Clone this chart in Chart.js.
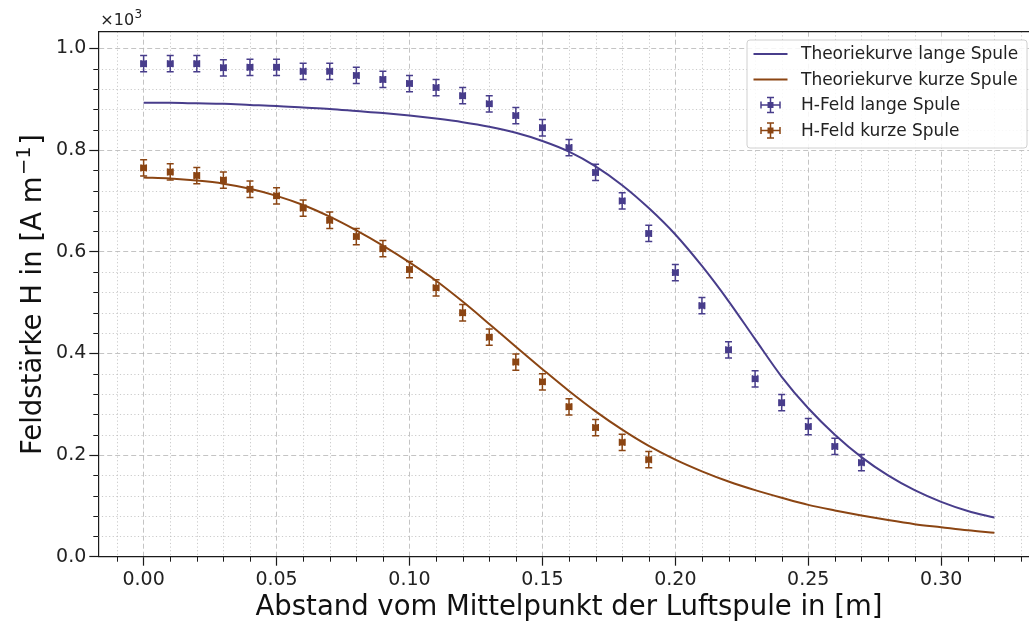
<!DOCTYPE html>
<html>
<head>
<meta charset="utf-8">
<script src="https://cdn.jsdelivr.net/npm/chart.js@4/dist/chart.umd.min.js"></script>
<style>
html,body{margin:0;padding:0;background:#fff;overflow:hidden;width:1029px;height:625px;}
#wrap{position:absolute;left:0;top:0;width:1046px;height:625px;}
</style>
</head>
<body>
<div id="wrap"><canvas id="c" width="1046" height="625"></canvas></div>
<script>
// ---- data (H in A/m, distance in m) ----
const xLong = [0.00,0.01,0.02,0.03,0.04,0.05,0.06,0.07,0.08,0.09,0.10,0.11,0.12,0.13,0.14,0.15,0.16,0.17,0.18,0.19,0.20,0.21,0.22,0.23,0.24,0.25,0.26,0.27];
const hLong = [970,970,970,962,963,963,955,955,947,939,931,923,907,891,868,844,805,756,700,636,559,494,407,350,303,256,217,185];
const xShort = [0.00,0.01,0.02,0.03,0.04,0.05,0.06,0.07,0.08,0.09,0.10,0.11,0.12,0.13,0.14,0.15,0.16,0.17,0.18,0.19];
const hShort = [765,757,750,741,723,710,686,662,630,606,565,529,480,432,383,344,295,254,225,191];
const hErr = 16;      // A/m
const xErr = 0.001;   // m

const xTheory = [0.00,0.01,0.02,0.03,0.04,0.05,0.06,0.07,0.08,0.09,0.10,0.11,0.12,0.13,0.14,0.15,0.16,0.17,0.18,0.19,0.20,0.21,0.22,0.23,0.24,0.25,0.26,0.27,0.28,0.29,0.30,0.31,0.32];
const hTheoryLong = [893,893,892,891,889,887,884,881,877,873,868,862,855,846,834,818,797,768,731,686,634,572,503,428,354,292,240,196,160,131,108,90,77];
const hTheoryShort = [746,744,740,734,724,710,692,669,642,612,579,543,502,458,413,369,326,286,250,218,191,168,148,131,116,102,91,81,72,64,58,52,47];

const xTicks = [0.00,0.05,0.10,0.15,0.20,0.25,0.30];
const yTicks = [0,200,400,600,800,1000];

const labels = {
  theoryLong: 'Theoriekurve lange Spule',
  theoryShort: 'Theoriekurve kurze Spule',
  dataLong: 'H-Feld lange Spule',
  dataShort: 'H-Feld kurze Spule',
  xTitle: 'Abstand vom Mittelpunkt der Luftspule in [m]',
  yTitleMain: 'Feldstärke H in [A m',
  yTitleSup: '−1',
  yTitleEnd: ']',
  offset: '×10',
  offsetSup: '3'
};

// ---- styles ----
const FONT = "'DejaVu Sans', sans-serif";
const BLUE = '#483d8b';
const BROWN = '#8b4513';
const AXIS = '#1a1a1a';

function pts(xs, ys){ return xs.map((x,i)=>({x:x, y:ys[i]})); }

function drawErrIcon(ctx, cx, cy, color, hx, hy, cap, ms){
  ctx.strokeStyle = color; ctx.lineWidth = 1.5; ctx.setLineDash([]);
  ctx.beginPath();
  ctx.moveTo(cx, cy-hy); ctx.lineTo(cx, cy+hy);
  ctx.moveTo(cx-cap, cy-hy); ctx.lineTo(cx+cap, cy-hy);
  ctx.moveTo(cx-cap, cy+hy); ctx.lineTo(cx+cap, cy+hy);
  ctx.moveTo(cx-hx, cy); ctx.lineTo(cx+hx, cy);
  ctx.moveTo(cx-hx, cy-cap); ctx.lineTo(cx-hx, cy+cap);
  ctx.moveTo(cx+hx, cy-cap); ctx.lineTo(cx+hx, cy+cap);
  ctx.stroke();
  ctx.fillStyle = color;
  ctx.fillRect(cx-ms/2, cy-ms/2, ms, ms);
}

const decor = {
  id: 'decor',
  beforeDatasetsDraw(chart){
    const {ctx, chartArea:a, scales:{x, y}} = chart;
    ctx.save();
    ctx.beginPath(); ctx.rect(a.left, a.top, a.right-a.left, a.bottom-a.top); ctx.clip();
    ctx.strokeStyle = 'rgba(185,185,185,0.75)';
    ctx.lineWidth = 1;
    ctx.setLineDash([1.2, 2.4]);
    ctx.beginPath();
    for (let i = -2; i <= 34; i++){
      if (i % 5 === 0) continue;
      const px = Math.round(x.getPixelForValue(i/100)) + 0.5;
      if (px < a.left || px > a.right) continue;
      ctx.moveTo(px, a.top); ctx.lineTo(px, a.bottom);
    }
    for (let i = 1; i <= 25; i++){
      if (i % 5 === 0) continue;
      const py = Math.round(y.getPixelForValue(i*40)) + 0.5;
      if (py < a.top || py > a.bottom) continue;
      ctx.moveTo(a.left, py); ctx.lineTo(a.right, py);
    }
    ctx.stroke();
    ctx.restore();
    // minor tick marks
    ctx.save();
    ctx.strokeStyle = AXIS; ctx.lineWidth = 1; ctx.setLineDash([]);
    ctx.beginPath();
    for (let i = -1; i <= 33; i++){
      if (i % 5 === 0) continue;
      const px = Math.round(x.getPixelForValue(i/100)) + 0.5;
      if (px < a.left || px > a.right) continue;
      ctx.moveTo(px, a.bottom); ctx.lineTo(px, a.bottom + 5);
    }
    for (let i = 1; i <= 25; i++){
      if (i % 5 === 0) continue;
      const py = Math.round(y.getPixelForValue(i*40)) + 0.5;
      ctx.moveTo(a.left, py); ctx.lineTo(a.left - 5, py);
    }
    ctx.stroke();
    ctx.restore();
  },
  beforeDatasetDraw(chart, args){
    const ds = chart.data.datasets[args.index];
    if (!ds.errBars) return;
    const {ctx, scales:{x, y}} = chart;
    ctx.save();
    ctx.strokeStyle = ds.borderColor; ctx.lineWidth = 1.5; ctx.setLineDash([]);
    ctx.beginPath();
    const cap = 3.5;
    ds.data.forEach(p => {
      const px = x.getPixelForValue(p.x), py = y.getPixelForValue(p.y);
      const t = y.getPixelForValue(p.y + hErr), b = y.getPixelForValue(p.y - hErr);
      const l = x.getPixelForValue(p.x - xErr), r = x.getPixelForValue(p.x + xErr);
      ctx.moveTo(px, t); ctx.lineTo(px, b);
      ctx.moveTo(px-cap, t); ctx.lineTo(px+cap, t);
      ctx.moveTo(px-cap, b); ctx.lineTo(px+cap, b);
      ctx.moveTo(l, py); ctx.lineTo(r, py);
      ctx.moveTo(l, py-cap); ctx.lineTo(l, py+cap);
      ctx.moveTo(r, py-cap); ctx.lineTo(r, py+cap);
    });
    ctx.stroke();
    ctx.restore();
  },
  afterDraw(chart){
    const {ctx, chartArea:a} = chart;
    ctx.save();
    // top and right spines
    ctx.strokeStyle = AXIS; ctx.lineWidth = 1.2; ctx.setLineDash([]);
    ctx.beginPath();
    ctx.moveTo(a.left, a.top); ctx.lineTo(a.right, a.top); ctx.lineTo(a.right, a.bottom);
    ctx.stroke();
    // offset text
    ctx.fillStyle = '#222';
    ctx.textBaseline = 'alphabetic'; ctx.textAlign = 'left';
    ctx.font = '16px ' + FONT;
    ctx.fillText(labels.offset, a.left + 2, a.top - 7);
    const ow = ctx.measureText(labels.offset).width;
    ctx.font = '12px ' + FONT;
    ctx.fillText(labels.offsetSup, a.left + 2 + ow + 0.5, a.top - 14);
    // y title (with superscript)
    ctx.save();
    ctx.translate(41, 455);
    ctx.rotate(-Math.PI/2);
    ctx.fillStyle = '#111';
    ctx.font = '27.5px ' + FONT;
    ctx.fillText(labels.yTitleMain, 0, 0);
    let w = ctx.measureText(labels.yTitleMain).width;
    ctx.font = '19.5px ' + FONT;
    ctx.fillText(labels.yTitleSup, w + 1.5, -11);
    w += 1.5 + ctx.measureText(labels.yTitleSup).width + 1.5;
    ctx.font = '27.5px ' + FONT;
    ctx.fillText(labels.yTitleEnd, w, 0);
    ctx.restore();
    // legend
    const lx = 747, ly = 40, lw = 280, lh = 108, rr = 3;
    ctx.beginPath();
    ctx.moveTo(lx+rr, ly); ctx.lineTo(lx+lw-rr, ly); ctx.quadraticCurveTo(lx+lw, ly, lx+lw, ly+rr);
    ctx.lineTo(lx+lw, ly+lh-rr); ctx.quadraticCurveTo(lx+lw, ly+lh, lx+lw-rr, ly+lh);
    ctx.lineTo(lx+rr, ly+lh); ctx.quadraticCurveTo(lx, ly+lh, lx, ly+lh-rr);
    ctx.lineTo(lx, ly+rr); ctx.quadraticCurveTo(lx, ly, lx+rr, ly);
    ctx.closePath();
    ctx.fillStyle = 'rgba(255,255,255,0.85)'; ctx.fill();
    ctx.strokeStyle = '#d0d0d0'; ctx.lineWidth = 1; ctx.stroke();
    const rows = [54, 79.5, 105, 130.5];
    const items = [
      {t: labels.theoryLong, c: BLUE, line: true},
      {t: labels.theoryShort, c: BROWN, line: true},
      {t: labels.dataLong, c: BLUE, line: false},
      {t: labels.dataShort, c: BROWN, line: false}
    ];
    items.forEach((it, i) => {
      const yy = rows[i];
      if (it.line){
        ctx.strokeStyle = it.c; ctx.lineWidth = 2;
        ctx.beginPath(); ctx.moveTo(753.5, yy); ctx.lineTo(787.5, yy); ctx.stroke();
      } else {
        drawErrIcon(ctx, 770.5, yy, it.c, 9.5, 7.5, 3.5, 6);
      }
      ctx.fillStyle = '#222';
      ctx.font = '17px ' + FONT;
      ctx.textBaseline = 'middle'; ctx.textAlign = 'left';
      ctx.fillText(it.t, 801, yy + 1);
    });
    ctx.restore();
  }
};

const chart = new Chart(document.getElementById('c'), {
  type: 'scatter',
  data: {
    datasets: [
      {label: labels.theoryLong, data: pts(xTheory, hTheoryLong), showLine: true, borderColor: BLUE, backgroundColor: BLUE, borderWidth: 2, pointRadius: 0, cubicInterpolationMode: 'monotone', order: 2},
      {label: labels.theoryShort, data: pts(xTheory, hTheoryShort), showLine: true, borderColor: BROWN, backgroundColor: BROWN, borderWidth: 2, pointRadius: 0, cubicInterpolationMode: 'monotone', order: 2},
      {label: labels.dataLong, data: pts(xLong, hLong), errBars: true, borderColor: BLUE, backgroundColor: BLUE, pointStyle: 'rect', pointRadius: 4.5, pointBorderWidth: 0, showLine: false, order: 1},
      {label: labels.dataShort, data: pts(xShort, hShort), errBars: true, borderColor: BROWN, backgroundColor: BROWN, pointStyle: 'rect', pointRadius: 4.5, pointBorderWidth: 0, showLine: false, order: 1}
    ]
  },
  options: {
    responsive: false,
    devicePixelRatio: 1,
    animation: false,
    layout: {padding: {left: 0, right: 6.3, top: 31.7, bottom: 0}},
    plugins: {legend: {display: false}, tooltip: {enabled: false}},
    scales: {
      x: {
        type: 'linear', position: 'bottom',
        min: -0.01705, max: 0.33705,
        afterBuildTicks: s => { s.ticks = xTicks.map(v => ({value: v})); },
        afterFit: s => { s.height = 68.3; },
        ticks: {color: '#222', font: {family: FONT, size: 19}, padding: 3, maxRotation: 0, autoSkip: false,
                callback: v => Number(v).toFixed(2)},
        grid: {color: 'rgba(176,176,176,0.75)', lineWidth: 1, tickLength: 9, tickColor: AXIS, tickWidth: 1.2},
        border: {display: true, color: AXIS, width: 1.2, dash: [5, 3]},
        title: {display: true, text: labels.xTitle, color: '#111',
                font: {family: FONT, size: 27.5}, padding: {top: 0, bottom: 0.5}}
      },
      y: {
        type: 'linear', position: 'left',
        min: 0, max: 1033,
        afterBuildTicks: s => { s.ticks = yTicks.map(v => ({value: v})); },
        afterFit: s => { s.width = 98.3; },
        ticks: {color: '#222', font: {family: FONT, size: 19}, padding: 3,
                callback: v => (v/1000).toFixed(1)},
        grid: {color: 'rgba(176,176,176,0.75)', lineWidth: 1, tickLength: 9, tickColor: AXIS, tickWidth: 1.2},
        border: {display: true, color: AXIS, width: 1.2, dash: [5, 3]},
        title: {display: false}
      }
    }
  },
  plugins: [decor]
});
</script>
</body>
</html>
